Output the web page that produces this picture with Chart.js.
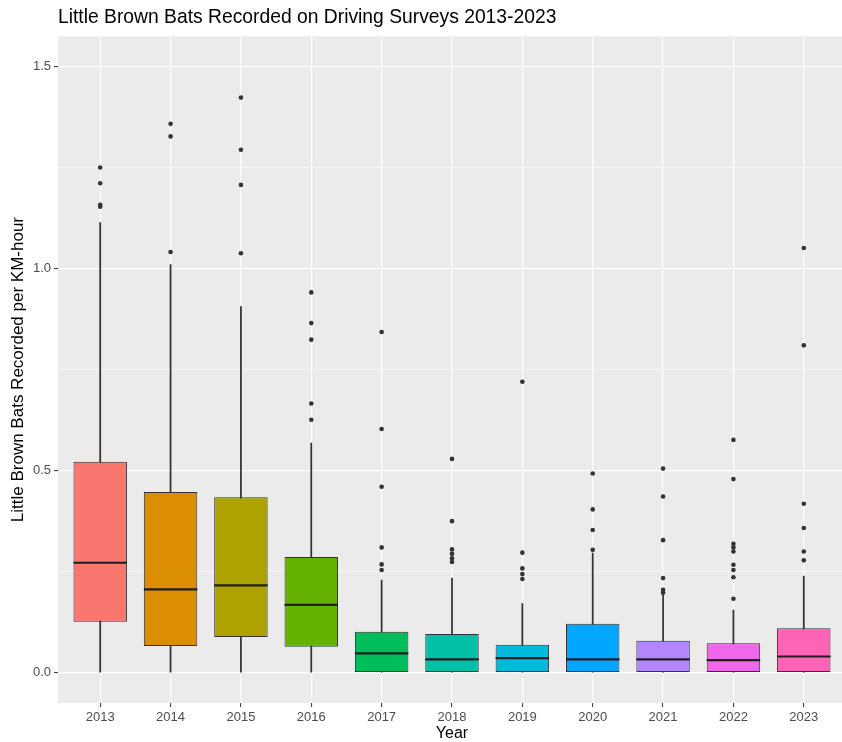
<!DOCTYPE html>
<html>
<head>
<meta charset="utf-8">
<script src="https://cdn.jsdelivr.net/npm/chart.js@4/dist/chart.umd.min.js"></script>
<style>
  html, body { margin: 0; padding: 0; background: #fff; overflow: hidden; }
  #wrap { width: 850px; height: 742px; }
</style>
</head>
<body>
<div id="wrap"><canvas id="grafico"></canvas></div>
<script>
// Valores (por ano)
const anos = [2013, 2014, 2015, 2016, 2017, 2018, 2019, 2020, 2021, 2022, 2023];
const q1 = [0.126, 0.066, 0.088, 0.064, 0, 0, 0, 0, 0, 0, 0];
const q3 = [0.522, 0.447, 0.434, 0.286, 0.101, 0.096, 0.069, 0.121, 0.079, 0.073, 0.110];
const medianas = [0.272, 0.206, 0.216, 0.168, 0.048, 0.033, 0.036, 0.033, 0.033, 0.031, 0.040];
const bigodeMin = [0, 0, 0, 0, 0, 0, 0, 0, 0, 0, 0];
const bigodeMax = [1.114, 1.010, 0.906, 0.568, 0.229, 0.234, 0.171, 0.296, 0.196, 0.155, 0.239];
const outliers = [
    [1.250, 1.211, 1.158, 1.153],
    [1.358, 1.327, 1.041],
    [1.423, 1.294, 1.207, 1.038],
    [0.941, 0.865, 0.824, 0.666, 0.626],
    [0.843, 0.603, 0.460, 0.310, 0.268, 0.254],
    [0.529, 0.375, 0.305, 0.294, 0.283, 0.274],
    [0.720, 0.297, 0.258, 0.244, 0.232],
    [0.493, 0.404, 0.353, 0.304],
    [0.505, 0.436, 0.328, 0.234, 0.205, 0.198],
    [0.576, 0.479, 0.319, 0.310, 0.300, 0.267, 0.254, 0.236, 0.183],
    [1.051, 0.810, 0.418, 0.358, 0.300, 0.278]
];
const yTicks = [0, 0.25, 0.5, 0.75, 1.0, 1.25, 1.5];

// Paleta padrão do ggplot (hue_pal, 11 cores)
const cores = ["#F8766D", "#DB8E00", "#AEA200", "#64B200", "#00BD5C", "#00C1A7",
               "#00BADE", "#00A6FF", "#B385FF", "#EF67EB", "#FF63B6"];

const pontosOutliers = [];
anos.forEach((ano, i) => {
    outliers[i].forEach((v) => pontosOutliers.push({ x: ano, y: v }));
});

const fonte = "'Liberation Sans', Arial, sans-serif";

// Fundo cinza do painel
const fundoPainel = {
    id: "fundoPainel",
    beforeDraw(chart) {
        const { ctx, chartArea: a } = chart;
        ctx.save();
        ctx.fillStyle = "#EBEBEB";
        ctx.fillRect(a.left, a.top, a.right - a.left, a.bottom - a.top);
        ctx.restore();
    }
};

// Linha da mediana dentro de cada caixa
const linhaMediana = {
    id: "linhaMediana",
    afterDatasetsDraw(chart) {
        const meta = chart.getDatasetMeta(1);
        const y = chart.scales.y;
        const ctx = chart.ctx;
        ctx.save();
        ctx.strokeStyle = "#1F1F1F";
        ctx.lineWidth = 2.2;
        meta.data.forEach((el, i) => {
            const py = y.getPixelForValue(medianas[i]);
            ctx.beginPath();
            ctx.moveTo(el.x - el.width / 2, py);
            ctx.lineTo(el.x + el.width / 2, py);
            ctx.stroke();
        });
        ctx.restore();
    }
};

new Chart(document.getElementById("grafico"), {
    type: "bar",
    data: {
        labels: anos,
        datasets: [
            {
                // bigodes
                data: anos.map((_, i) => [bigodeMin[i], bigodeMax[i]]),
                backgroundColor: "#333333",
                barThickness: 1.1,
                grouped: false,
                order: 3
            },
            {
                // caixas
                data: anos.map((_, i) => [q1[i], q3[i]]),
                backgroundColor: cores,
                borderColor: "#333333",
                borderWidth: 1,
                borderSkipped: false,
                categoryPercentage: 1,
                barPercentage: 0.76,
                grouped: false,
                order: 2
            },
            {
                type: "line",
                data: pontosOutliers,
                showLine: false,
                pointRadius: 2.3,
                pointBorderWidth: 0,
                pointBackgroundColor: "#333333",
                borderColor: "#333333",
                order: 1
            }
        ]
    },
    options: {
        responsive: true,
        maintainAspectRatio: false,
        animation: false,
        events: [],
        layout: { padding: { left: 0, right: 2, top: 0, bottom: 0 } },
        plugins: {
            legend: { display: false },
            tooltip: { enabled: false },
            title: {
                display: true,
                text: "Little Brown Bats Recorded on Driving Surveys 2013-2023",
                align: "start",
                fullSize: false,
                color: "#000000",
                font: { family: fonte, size: 19.3, weight: "normal", lineHeight: 1.2 },
                padding: { top: 6, bottom: 7 }
            }
        },
        scales: {
            x: {
                type: "linear",
                min: 2012.4,
                max: 2023.6,
                offset: false,
                afterBuildTicks: (s) => { s.ticks = anos.map((v) => ({ value: v })); },
                afterFit: (s) => { s.height = 39; },
                ticks: {
                    autoSkip: false,
                    maxRotation: 0,
                    padding: 3,
                    color: "#4D4D4D",
                    font: { family: fonte, size: 13 },
                    callback: (v) => String(v)
                },
                grid: {
                    offset: false,
                    color: "#FFFFFF",
                    lineWidth: 1.2,
                    tickColor: "#333333",
                    tickLength: 4,
                    tickWidth: 1
                },
                border: { display: false },
                title: {
                    display: true,
                    text: "Year",
                    color: "#000000",
                    font: { family: fonte, size: 16, lineHeight: 1 },
                    padding: { top: 0, bottom: 0 }
                }
            },
            y: {
                min: -0.075,
                max: 1.575,
                afterBuildTicks: (s) => { s.ticks = yTicks.map((v) => ({ value: v })); },
                afterFit: (s) => { s.width = 58; },
                ticks: {
                    autoSkip: false,
                    padding: 3,
                    color: "#4D4D4D",
                    font: { family: fonte, size: 13 },
                    callback: (v) => (v % 0.5 === 0 ? v.toFixed(1) : "")
                },
                grid: {
                    color: "#FFFFFF",
                    lineWidth: (c) => (c.tick && c.tick.value % 0.5 === 0 ? 1.2 : 0.6),
                    tickColor: (c) => (c.tick && c.tick.value % 0.5 === 0 ? "#333333" : "rgba(0,0,0,0)"),
                    tickLength: 4,
                    tickWidth: 1
                },
                border: { display: false },
                title: {
                    display: true,
                    text: "Little Brown Bats Recorded per KM-hour",
                    color: "#000000",
                    font: { family: fonte, size: 17, lineHeight: 1 },
                    padding: { top: 10, bottom: 0 }
                }
            }
        }
    },
    plugins: [fundoPainel, linhaMediana]
});
</script>
</body>
</html>
